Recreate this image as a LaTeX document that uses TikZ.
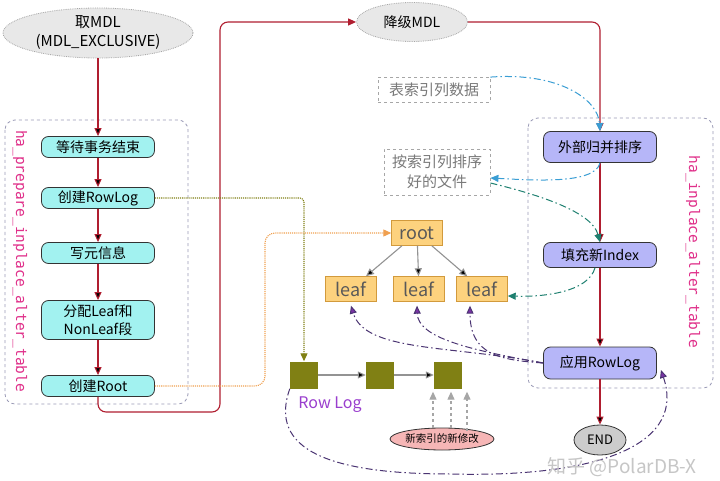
\documentclass[tikz,border=0pt]{standalone}
\usepackage{fontspec}
\setmainfont{Noto Sans CJK SC}
\setmonofont{DejaVu Sans Mono}
\usetikzlibrary{shapes.geometric,arrows.meta}
\definecolor{flowred}{HTML}{B01E30}
\definecolor{prepcyan}{HTML}{A2F2F0}
\definecolor{inplblue}{HTML}{B6B6F8}
\definecolor{boxgray}{HTML}{9A9AB6}
\definecolor{tagpink}{HTML}{E0308A}
\definecolor{idxfill}{HTML}{FDD27E}
\definecolor{idxedge}{HTML}{D29A3C}
\definecolor{logolive}{HTML}{808014}
\definecolor{logpurple}{HTML}{9A3ECE}
\definecolor{pinkfill}{HTML}{F6B6B6}
\definecolor{scanblue}{HTML}{3A9ED4}
\definecolor{mergeteal}{HTML}{1E8070}
\definecolor{applyline}{HTML}{4A3472}
\definecolor{rootorange}{HTML}{F0A050}

\begin{document}
\begin{tikzpicture}[x=1pt,y=-1pt,
  prep/.style={draw=black!80,thick,rounded corners=7pt,fill=prepcyan,minimum width=113pt,
    minimum height=21pt,inner sep=1pt,align=center,font=\fontsize{14}{18}\selectfont},
  inpl/.style={prep,fill=inplblue},
  mdl/.style={ellipse,draw=gray!70,densely dotted,thick,fill=gray!18,inner sep=0pt,align=center},
  note/.style={draw=gray!70,dashed,thick,text=gray!95!black,inner sep=0pt,align=center,
    font=\fontsize{15}{20}\selectfont},
  idx/.style={draw=idxedge,fill=idxfill,text=black!65,minimum width=51pt,minimum height=25pt,
    inner sep=0pt,font=\fontsize{18}{20}\selectfont},
  logblk/.style={fill=logolive,minimum width=28pt,minimum height=27pt,inner sep=0pt},
  stage/.style={draw=boxgray,dashed,thick,rounded corners=10pt},
  tag/.style={rotate=-90,text=tagpink,font=\ttfamily\fontsize{14.5}{16}\selectfont},
  flow/.style={draw=flowred,line width=1.1pt,-{Triangle[length=8pt,width=7pt]}},
  tree/.style={draw=gray!85,line width=1.1pt,-{Triangle[length=8pt,width=7pt]}},
  dashdot/.style={line width=1pt,dash pattern=on 7pt off 3pt on 1.5pt off 3pt},
  scanflow/.style={dashdot,draw=scanblue,-{Triangle[length=8pt,width=7pt]}},
  mergeflow/.style={dashdot,draw=mergeteal,-{Triangle[length=8pt,width=7pt]}},
  applyflow/.style={dashdot,draw=applyline,-{Triangle[length=8pt,width=7pt,fill=logpurple!80!black]}},
  modarrow/.style={draw=gray!70,line width=1.2pt,dashed,-{Triangle[length=8pt,width=7pt]}}
]
\useasboundingbox[fill=white] (0,0) rectangle (720,481);

% prepare stage
\draw[stage] (5,120) rectangle (188,404);
\node[tag] (preptag) at (20,261) {ha\_prepare\_inplace\_alter\_table};
\node[mdl,minimum width=190pt,minimum height=50pt,font=\fontsize{15}{19}\selectfont] (getmdl) at (98,33) {取MDL\\(MDL\_EXCLUSIVE)};
\node[prep] (waittrx) at (98,147) {等待事务结束};
\node[prep] (mklog) at (98,198) {创建RowLog};
\node[prep] (writemeta) at (98,253) {写元信息};
\node[prep,minimum height=39pt] (allocseg) at (98,320) {分配Leaf和\\NonLeaf段};
\node[prep] (mkroot) at (98,386) {创建Root};
\draw[flow] (getmdl) edge (waittrx) (waittrx) edge (mklog) (mklog) edge (writemeta)
  (writemeta) edge (allocseg) (allocseg) edge (mkroot);

% inplace stage
\node[mdl,minimum width=111pt,minimum height=39pt,font=\fontsize{14}{18}\selectfont] (downmdl) at (412,22) {降级MDL};
\draw[stage] (528,118) rectangle (713,388);
\node[tag] (inpltag) at (693,252) {ha\_inplace\_alter\_table};
\node[inpl,minimum height=31pt] (extsort) at (600,147) {外部归并排序};
\node[inpl,minimum height=25pt] (fillidx) at (600,255) {填充新Index};
\node[inpl,minimum height=32pt] (applylog) at (600,363) {应用RowLog};
\node[ellipse,draw=black!80,thick,fill=gray!40,minimum width=52pt,minimum height=30pt,inner sep=0pt,
  font=\fontsize{13}{15}\selectfont] (finish) at (600,440) {END};
\draw[flow,rounded corners=8pt] (mkroot.south) |- (220,412) |- (downmdl);
\draw[flow,rounded corners=8pt] (downmdl) -| (extsort);
\draw[flow] (extsort) edge (fillidx) (fillidx) edge (applylog) (applylog) edge (finish);

% data
\node[note,minimum width=112pt,minimum height=25pt] (tabdata) at (434,90) {表索引列数据};
\node[note,minimum width=106pt,minimum height=46pt] (sortfile) at (437,172) {按索引列排序\\好的文件};

% new index
\node[idx] (root) at (417,233) {root};
\node[idx] (leafa) at (351,289) {leaf};
\node[idx] (leafb) at (419,289) {leaf};
\node[idx] (leafc) at (482,289) {leaf};
\draw[tree] (root) edge (leafa) (root) edge (leafb) (root) edge (leafc);

% row log
\node[logblk] (loga) at (304,375) {};
\node[logblk] (logb) at (380,375) {};
\node[logblk] (logc) at (448,375) {};
\draw[tree] (loga) edge (logb) (logb) edge (logc);
\node[text=logpurple,font=\fontsize{16}{18}\selectfont] (loglabel) at (330,405) {Row Log};
\node[ellipse,draw=black!80,thick,fill=pinkfill,minimum width=95pt,minimum height=22pt,inner sep=0pt,
  font=\fontsize{10.5}{12}\selectfont] (newmod) at (442,439) {新索引的新修改};
\draw[modarrow] ([xshift=-9pt]newmod.north) -- ([xshift=-15pt,yshift=-3pt]logc.south);
\draw[modarrow] ([xshift=9pt]newmod.north) -- ([xshift=3pt,yshift=-3pt]logc.south);
\draw[modarrow] ([xshift=25pt,yshift=-3pt]newmod.north) -- ([xshift=19pt,yshift=-3pt]logc.south);

\draw[draw=logolive,line width=1.1pt,densely dotted,rounded corners=4pt,-{Triangle[length=8pt,width=7pt]}]
  (mklog) -| (loga);
\draw[draw=rootorange,line width=1.1pt,densely dotted,rounded corners=10pt,-{Triangle[length=8pt,width=7pt]}]
  (mkroot) -- (265,386) |- (root);

\draw[scanflow] (tabdata.north east) .. controls (560,72) and (598,100) .. (extsort.north);
\draw[scanflow] (extsort.south) .. controls (595,185) and (530,180) .. ([yshift=-6pt]sortfile.east);
\draw[mergeflow] ([yshift=-11pt]sortfile.east) .. controls (540,195) and (592,212) .. (fillidx.north);
\draw[mergeflow] ([xshift=-5pt]fillidx.south) .. controls (588,292) and (545,297) .. ([yshift=-7pt]leafc.east);

\draw[applyflow] (applylog.west) .. controls (500,360) and (470,355) .. ([xshift=-12pt,yshift=-4pt]leafc.south);
\draw[applyflow] (applylog.west) .. controls (470,350) and (418,338) .. ([xshift=-2pt,yshift=-4pt]leafb.south);
\draw[applyflow] (applylog.west) .. controls (450,345) and (365,352) .. ([yshift=-4pt]leafa.south);
\draw[applyflow] (loga.south west) .. controls (268,450) and (330,474) .. (450,474)
  .. controls (610,478) and (685,440) .. ([xshift=4pt,yshift=-7pt]applylog.east);

\node[text=gray!45,font=\fontsize{19}{21}\selectfont] (mark) at (622,467) {知乎 @PolarDB-X};
\end{tikzpicture}
\end{document}
